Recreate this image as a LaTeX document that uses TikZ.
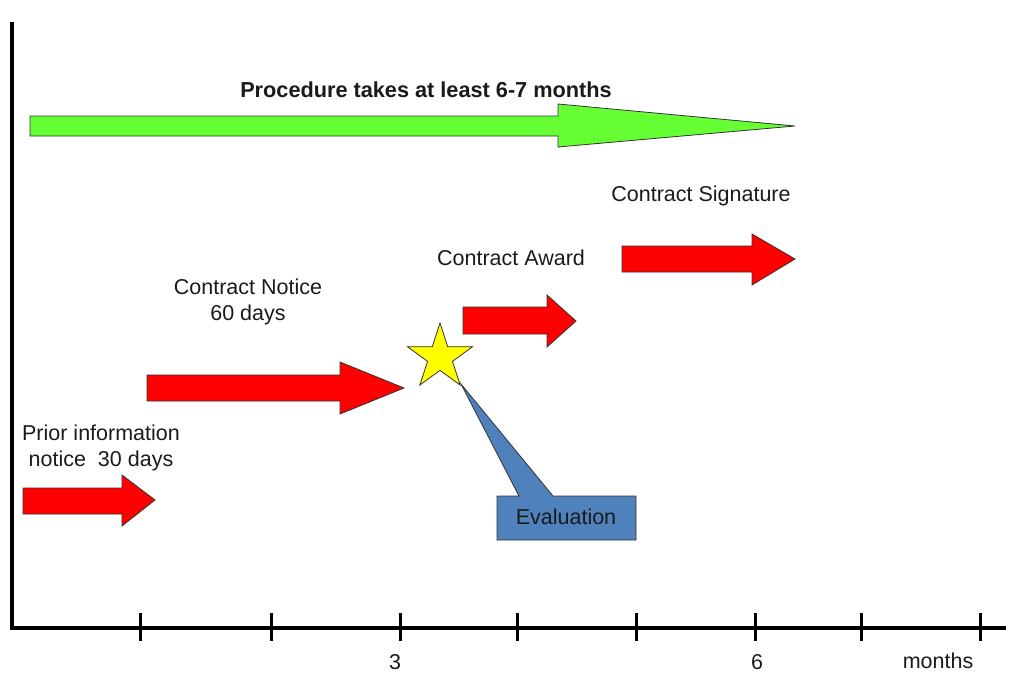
\documentclass[tikz,border=0pt]{standalone}
\usepackage{fontspec}
\setmainfont{Liberation Sans}
\definecolor{arrred}{HTML}{FF0000}
\definecolor{arrgreen}{HTML}{66FF33}
\definecolor{staryellow}{HTML}{FFFF00}
\definecolor{evalblue}{HTML}{4F81BD}
\definecolor{outl}{HTML}{333333}
\definecolor{txt}{HTML}{1A1A1A}
\tikzset{
  blockarrow/.style={draw=outl, line width=0.8pt, line join=miter},
  lbl/.style={text=txt, inner sep=0pt, font=\fontsize{21.5}{26}\selectfont, align=center},
  axis/.style={line width=4pt, black},
  tick/.style={line width=3pt, black},
}
\begin{document}
\begin{tikzpicture}[x=1pt,y=-1pt]
\useasboundingbox (0,0) rectangle (1010,673);
% axes
\coordinate (vtop) at (12,22);
\coordinate (origin) at (12,628);
\coordinate (xend) at (1006,628);
\draw[axis] (vtop) -- (origin);
\draw[axis] (10,628) -- (xend);
\foreach \x in {140,271,400,517,636,755,861,980}{
  \draw[tick] (\x,613) -- (\x,641);
}
\node[lbl] (l3) at (395,662) {3};
\node[lbl] (l6) at (757,662) {6};
\node[lbl] (lm) at (938,661) {months};

% green arrow
\fill[arrgreen, blockarrow] (30,116) -- (558,116) -- (558,104) -- (795,126) -- (558,147) -- (558,136) -- (30,136) -- cycle;
\node[lbl, font=\fontsize{21.7}{26}\bfseries] (title) at (426,90) {Procedure takes at least 6-7 months};

% red arrows
\fill[arrred, blockarrow] (23,488) -- (122,488) -- (122,475) -- (155,500) -- (122,526) -- (122,514) -- (23,514) -- cycle;
\fill[arrred, blockarrow] (147,375) -- (340,375) -- (340,362) -- (404,388) -- (340,414) -- (340,401) -- (147,401) -- cycle;
\fill[arrred, blockarrow] (463,307) -- (547,307) -- (547,295) -- (576,321) -- (547,347) -- (547,334) -- (463,334) -- cycle;
\fill[arrred, blockarrow] (622,246) -- (752,246) -- (752,234) -- (795,259) -- (752,285) -- (752,272) -- (622,272) -- cycle;

\node[lbl] (prior) at (101,448) {Prior information\\notice~ 30 days};
\node[lbl] (notice) at (248,302) {Contract Notice\\60 days};
\node[lbl] (award) at (511,258) {Contract Award};
\node[lbl] (sign) at (701,196) {Contract Signature};

% evaluation callout
\coordinate (apex) at (461,384);
\fill[evalblue, blockarrow] (497,496) -- (519,496) -- (apex) -- (553,496) -- (636,496) -- (636,540) -- (497,540) -- cycle;
\node[lbl] (eval) at (566,517) {Evaluation};

% star
\coordinate (star) at (440,357.3);
\fill[staryellow, blockarrow] ([shift={(-90:34.3)}]star)
  \foreach \a in {0,1,2,3,4}{
    -- ([shift={(-54+72*\a:13.1)}]star) -- ([shift={(-18+72*\a:34.3)}]star)
  } -- cycle;
\end{tikzpicture}
\end{document}
